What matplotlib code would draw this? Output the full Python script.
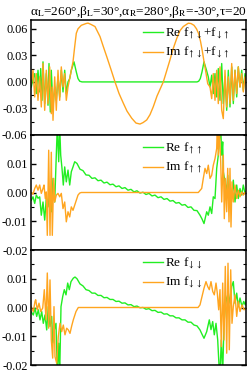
import matplotlib
matplotlib.use("Agg")
import matplotlib.pyplot as plt
from matplotlib.ticker import MultipleLocator, FormatStrFormatter

plt.rcParams['font.family'] = 'serif'
plt.rcParams['font.serif'] = ['Liberation Serif', 'DejaVu Serif']
plt.rcParams['mathtext.fontset'] = 'stix'

# site position along the junction (arbitrary units, 0..215)
# --- top panel: f_ud + f_du
re_ud_x = [0.3, 2, 3.7, 5.3, 7, 8.7, 9.7, 11, 12, 13.7, 15.3, 17, 18, 19.3, 20.3, 22, 23.7, 25.3, 27,
           28.7, 30.3, 32, 33.7, 35.3, 37, 38.7, 40.3, 43, 45.3, 47, 48.7, 51, 166, 167.7, 169.3, 171,
           173, 175.5, 177.3, 179, 180.7, 182.3, 184, 185.7, 187.3, 189, 190.7, 192.3, 194, 195.7,
           197.3, 199, 200.7, 202.3, 204, 205.7, 207.3, 209, 210.7, 212.3, 214, 215.7]
re_ud = [-0.0057, 0.0038, 0.0094, -0.0132, 0.0132, -0.0113, 0.0151, -0.0208, 0.0227, -0.0245, 0.0094,
         -0.0264, 0.0208, -0.0340, 0.0132, -0.0283, -0.0057, -0.0208, 0.0057, -0.0170, 0.0132, -0.0113,
         0.0132, -0.0132, 0.0, 0.0038, 0.0132, 0.0227, 0.0113, 0.0038, 0.0008, 0.0, 0.0, 0.0008, 0.0038,
         0.0113, 0.0227, 0.0132, 0.0057, -0.0057, 0.0076, -0.0132, 0.0094, -0.0170, 0.0151, -0.0208,
         0.0208, -0.0245, 0.0057, -0.0321, 0.0132, -0.0283, 0.0170, -0.0245, 0.0132, -0.0170, 0.0170,
         -0.0057, 0.0132, -0.0094, 0.0094, -0.0019]

im_ud_x = [0.3, 2, 3.7, 5.3, 7, 8.7, 10.3, 12, 13.7, 15.3, 17, 18.7, 20.3, 21.3, 22, 23.7, 25.3, 27,
           28.7, 30.3, 32, 33.7, 35.3, 37, 38.7, 40.3, 42, 43.7, 45.3, 47, 50.3, 55, 57, 60, 64, 69, 72,
           75.7, 80, 84, 88, 92.3, 96, 100.7, 105, 109, 112, 115.7, 119, 122.3, 126, 132.3, 135, 139,
           142, 145.7, 149, 152.3, 157.3, 160, 163, 165.5, 167.5, 169.5, 171.3, 173, 175, 176.7, 179,
           180.7, 182.3, 184, 185.7, 187.3, 189, 190.7, 192.3, 194, 195.7, 197.3, 199, 200.7, 202.3,
           204, 205.7, 207.3, 209, 210.7, 212.3, 214, 215.7]
im_ud = [-0.0019, 0.0132, -0.0170, 0.0094, -0.0208, 0.0057, -0.0283, 0.0208, -0.0321, 0.0132, -0.0245,
         0.0170, -0.0359, -0.0057, -0.0434, 0.0057, -0.0321, 0.0132, -0.0208, 0.0170, -0.0057, 0.0094,
         -0.0208, -0.0057, 0.0038, 0.0132, 0.0227, 0.040, 0.055, 0.060, 0.064, 0.066, 0.0665, 0.065,
         0.0626, 0.0513, 0.041, 0.0287, 0.014, 0.0, -0.013, -0.024, -0.033, -0.041, -0.0465, -0.0476,
         -0.046, -0.043, -0.037, -0.028, -0.016, 0.0, 0.010, 0.025, 0.037, 0.049, 0.058, 0.0626, 0.0664,
         0.066, 0.064, 0.060, 0.055, 0.046, 0.035, 0.023, 0.010, -0.002, -0.0057, -0.0189, 0.0094,
         -0.0208, 0.0132, -0.0245, 0.0170, -0.0321, -0.0415, 0.0132, -0.0283, 0.0057, -0.0245, 0.0208,
         -0.0208, 0.0132, -0.0132, 0.0170, -0.0057, 0.0094, -0.0113, 0.0057, -0.0057]

# --- middle panel: f_uu
re_uu_x = [0.3, 2, 3.7, 5.3, 7, 8.7, 10.3, 12, 13.7, 15.3, 17, 18.7, 20.3, 22, 23.7, 25.3, 26.3, 27.7,
           28.7, 29.7, 31, 32.3, 33.7, 35.3, 37, 38.7, 40.3, 42, 43.7,
           46, 49, 52, 55, 58, 61, 64, 67, 70, 73, 76, 79, 82, 85, 88, 91, 94, 97, 100, 103, 106, 109,
           112, 115, 118, 121, 124, 127, 130, 133, 136, 139, 142, 145, 148, 151, 154, 157, 160, 163,
           166, 169, 171, 173, 175.7, 177.3, 179, 180.7, 182.3, 184, 185.7, 187.3, 188.3, 189.7, 190.7,
           191.7, 192.3, 194, 195.7, 196.7, 198, 199, 200.7, 202.3, 204, 205.7, 207.3, 209, 210.7,
           212.3, 214, 215.7]
re_uu = [-0.0027, -0.0015, -0.0038, -0.0009, -0.0020, -0.0015, -0.0079, -0.0033, -0.0096, -0.0020,
         -0.0050, 0.0, -0.0067, 0.0049, -0.0033, 0.0130, 0.0230, 0.0107, 0.0230, 0.0130, 0.0084, 0.0026,
         0.0089, 0.0037, 0.0078, 0.0026, 0.0072, 0.0089, 0.0107,
         0.0101, 0.0081, 0.0076, 0.0061, 0.0060, 0.0049, 0.0051, 0.0041, 0.0043, 0.0033, 0.0036,
         0.0027, 0.0029, 0.0020, 0.0023, 0.0014, 0.0017, 0.0008, 0.0011, 0.0002, 0.0006, -0.0002,
         0.0001, -0.0007, -0.0003, -0.0012, -0.0009, -0.0018, -0.0015, -0.0024, -0.0021, -0.0030,
         -0.0028, -0.0037, -0.0035, -0.0044, -0.0042, -0.0052, -0.0050, -0.0062, -0.0063, -0.0079,
         -0.0092, -0.0108, -0.0067, -0.0079, -0.0050, -0.0073, -0.0015, -0.0021, 0.0084, 0.0130,
         0.0176, 0.0230, 0.0130, 0.0176, 0.0072, 0.0037, 0.0002, 0.0060, -0.0033, 0.0026, -0.0021,
         0.0043, -0.0033, 0.0026, -0.0021, 0.0014, -0.0009, 0.0026, -0.0003, 0.0008]

im_uu_x = [0.3, 2, 3.7, 5.3, 7, 8.7, 10.3, 12, 13, 14.3, 15.3, 16.3, 17.7, 19, 20.3, 21.3, 22.7, 23.7,
           25.3, 27, 28.7, 30.3, 32, 33.7, 35.3, 37, 38.7, 40.3, 42, 43.7, 45.3, 47, 48.7, 50.3, 167.3,
           170.7, 172.3, 174, 175.7, 177.3, 179, 180.7, 182.3, 184, 185.7, 186.3, 187.3, 188.3, 189.7,
           190.7, 192.3, 193.3, 194.3, 195.7, 196.7, 198, 199, 200, 201, 202.3, 204, 205.7, 207.3, 209,
           210.7, 212.3, 214, 215.7]
im_uu = [0.0, -0.0006, 0.0014, 0.0026, 0.0008, 0.0026, -0.0003, 0.0014, 0.0026, -0.0021, 0.0002,
         -0.0149, 0.0147, -0.0149, 0.0140, -0.0149, 0.0049, -0.0033, -0.0009, -0.0003, -0.0015, -0.0003,
         -0.0056, -0.0033, -0.0102, -0.0067, -0.0085, -0.0050, -0.0062, -0.0044, -0.0027, -0.0009,
         -0.0002, 0.0, 0.0, 0.0014, 0.0049, 0.0084, 0.0066, 0.0095, 0.0049, 0.0060, 0.0095, 0.0118,
         0.0153, 0.0230, 0.0130, 0.0230, 0.0107, -0.0033, 0.0130, -0.0091, 0.0049, -0.0067, 0.0084,
         -0.0102, 0.0084, -0.0120, 0.0037, -0.0033, 0.0026, -0.0021, 0.0008, -0.0015, 0.0002, -0.0009,
         0.0, -0.0003]

# --- bottom panel: f_dd
re_dd_x = [0, 2.3, 4, 5.7, 7.3, 9, 10.7, 12.3, 14, 15.7, 17.3, 19, 20.7, 21.7, 23.3, 25, 26.3, 27.7,
           28.7, 30, 31.7, 33.3, 35, 36.7, 38.3, 40, 42.3, 44,
           46, 49, 52, 55, 58, 61, 64, 67, 70, 73, 76, 79, 82, 85, 88, 91, 94, 97, 100, 103, 106, 109,
           112, 115, 118, 121, 124, 127, 130, 133, 136, 139, 142, 145, 148, 151, 154, 157, 160, 163,
           166, 169, 171, 173, 175.7, 178.3, 180, 181.7, 183.3, 185, 186.7, 188, 189, 190.3, 191.7,
           193, 194.3, 195.7, 197.3, 199, 200.7, 202.3, 204, 205.7, 207.3, 209, 211, 212.7, 214.3, 215.7]
re_dd = [-0.0014, -0.0026, -0.0002, -0.0031, -0.0008, -0.0043, -0.0014, -0.0055, -0.0026, -0.0078,
         0.0003, -0.0066, -0.0031, -0.0124, -0.0078, -0.0055, -0.0230, -0.0124, -0.0230, 0.0003, 0.0038,
         0.0062, 0.0044, 0.0085, 0.0062, 0.0090, 0.0102, 0.0106,
         0.0100, 0.0082, 0.0075, 0.0062, 0.0059, 0.0050, 0.0050, 0.0042, 0.0042, 0.0034, 0.0035,
         0.0028, 0.0028, 0.0021, 0.0022, 0.0015, 0.0016, 0.0009, 0.0010, 0.0003, 0.0005, -0.0001,
         0.0000, -0.0006, -0.0004, -0.0011, -0.0010, -0.0017, -0.0016, -0.0023, -0.0022, -0.0029,
         -0.0029, -0.0036, -0.0036, -0.0043, -0.0043, -0.0051, -0.0051, -0.0061, -0.0064, -0.0078,
         -0.0093, -0.0107, -0.0084, -0.0043, -0.0077, -0.0049, -0.0095, -0.0055, -0.0113, -0.0200,
         -0.0230, -0.0113, -0.0230, -0.0055, 0.0003, 0.0033, 0.0050, 0.0015, 0.0073, 0.0090, 0.0015,
         0.0050, 0.0003, 0.0033, 0.0003, 0.0021, 0.0009, 0.0033]

im_dd_x = [0, 2.3, 4, 4.7, 6.3, 8, 9.7, 11.7, 13.3, 15, 16.3, 17.7, 19, 20.3, 21.7, 23, 24, 25.7, 27.3,
           29, 30.7, 32.3, 34, 35.7, 37.3, 39, 40.7, 42.3, 45, 47.3, 167, 169, 171, 173, 175, 176.7,
           178.3, 180, 181.7, 183.3, 185, 186.3, 187.7, 189, 190.3, 191.7, 193, 194.3, 195.7, 197,
           198.3, 199.7, 201, 202.3, 204, 205.7, 207.3, 209, 211, 213, 215.7]
im_dd = [0.0003, -0.0014, 0.0021, 0.0027, -0.0008, 0.0015, -0.0014, -0.0002, 0.0062, -0.0043, 0.0120,
         -0.0072, 0.0096, -0.0113, -0.0176, 0.0003, -0.0171, -0.0194, -0.0101, -0.0055, -0.0084,
         -0.0061, -0.0095, -0.0072, -0.0078, -0.0090, -0.0064, -0.0043, -0.0014, 0.0, 0.0, 0.0009,
         0.0038, 0.0067, 0.0090, 0.0073, 0.0062, 0.0090, 0.0056, 0.0044, 0.0085, 0.0050, -0.0008,
         0.0062, -0.0136, 0.0085, -0.0113, 0.0143, -0.0159, 0.0154, -0.0147, 0.0131, -0.0055, 0.0003,
         0.0044, -0.0031, 0.0021, -0.0014, 0.0009, -0.0008, -0.0002]

GREEN = '#22ee22'
ORANGE = '#ffa51f'

panels = [
    (re_ud_x, re_ud, im_ud_x, im_ud,
     r'Re f$_{\uparrow\downarrow}$+f$_{\downarrow\uparrow}$',
     r'Im f$_{\uparrow\downarrow}$+f$_{\downarrow\uparrow}$',
     (-0.06, 0.07), [-0.06, -0.03, 0.0, 0.03, 0.06], 0.015),
    (re_uu_x, re_uu, im_uu_x, im_uu,
     r'Re f$_{\uparrow\uparrow}$', r'Im f$_{\uparrow\uparrow}$',
     (-0.02, 0.02), [-0.02, -0.01, 0.0, 0.01], 0.005),
    (re_dd_x, re_dd, im_dd_x, im_dd,
     r'Re f$_{\downarrow\downarrow}$', r'Im f$_{\downarrow\downarrow}$',
     (-0.02, 0.02), [-0.02, -0.01, 0.0, 0.01], 0.005),
]

fig, axes = plt.subplots(3, 1, figsize=(2.49, 3.71), dpi=100, sharex=True)
fig.subplots_adjust(left=31 / 249, right=246 / 249, top=1 - 20 / 371, bottom=6 / 371, hspace=0)

for ax, (rx, ry, ix, iy, lab_re, lab_im, ylim, yt, ymin) in zip(axes, panels):
    ax.plot(rx, ry, color=GREEN, lw=1.0, label=lab_re)
    ax.plot(ix, iy, color=ORANGE, lw=1.0, label=lab_im)
    ax.set_xlim(0, 215)
    ax.set_ylim(*ylim)
    ax.set_yticks(yt)
    ax.yaxis.set_minor_locator(MultipleLocator(ymin))
    ax.yaxis.set_major_formatter(FormatStrFormatter('%.2f'))
    ax.tick_params(axis='y', which='both', direction='in', left=True, right=True,
                   labelsize=8.8, pad=2.5)
    ax.tick_params(axis='y', which='major', length=3.5, width=1)
    ax.tick_params(axis='y', which='minor', length=2, width=0.8)
    ax.tick_params(axis='x', which='both', bottom=False, top=False, labelbottom=False)
    for s in ax.spines.values():
        s.set_linewidth(1.1)
    ax.legend(loc='upper left', bbox_to_anchor=(0.48, 1.03), frameon=False, fontsize=9.5,
              handlelength=1.5, handletextpad=0.15, labelspacing=0.25, borderpad=0.2)

axes[0].set_title('α$_\\mathrm{L}$=260°,β$_\\mathrm{L}$=30°,α$_\\mathrm{R}$=280°,'
                  'β$_\\mathrm{R}$=-30°,τ=20', fontsize=9.5, pad=3)

fig.savefig('out.png', dpi=100)
